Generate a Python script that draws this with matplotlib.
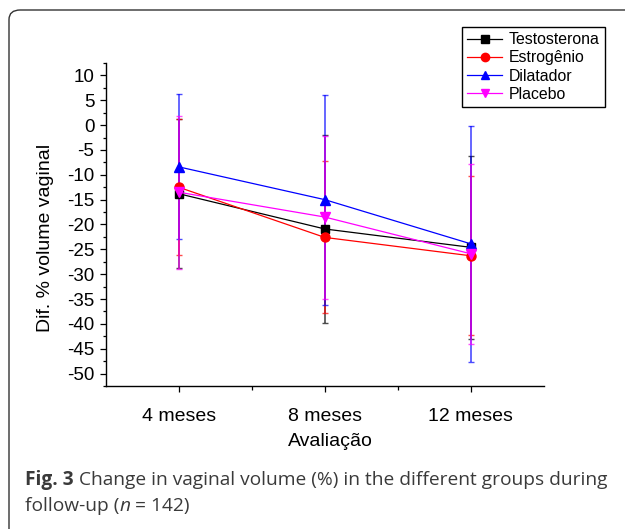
import matplotlib
matplotlib.use("Agg")
import matplotlib.pyplot as plt
from matplotlib.patches import FancyBboxPatch
from matplotlib.ticker import MultipleLocator, FixedLocator

plt.rcParams['font.family'] = ['Liberation Sans', 'DejaVu Sans']
plt.rcParams['axes.unicode_minus'] = False

months = ['4 meses', '8 meses', '12 meses']
groups = ['Testosterona', 'Estrogênio', 'Dilatador', 'Placebo']
testosterona = [-13.8, -20.9, -24.6]
testosterona_err = [15.0, 19.0, 18.4]
estrogenio = [-12.5, -22.6, -26.3]
estrogenio_err = [13.7, 15.3, 16.0]
dilatador = [-8.4, -15.0, -23.9]
dilatador_err = [14.6, 21.1, 23.7]
placebo = [-13.5, -18.5, -25.9]
placebo_err = [15.4, 16.4, 18.1]

series = [
    (testosterona, testosterona_err, '#000000', 's', 6),
    (estrogenio, estrogenio_err, '#ff0000', 'o', 6.5),
    (dilatador, dilatador_err, '#0000ff', '^', 7),
    (placebo, placebo_err, '#ff00ff', 'v', 7),
]

W, H = 625, 529
fig = plt.figure(figsize=(W / 100, H / 100), dpi=100)

# rounded frame around the figure (cut off at right and bottom)
frame = FancyBboxPatch((9 / W, -0.1), 1.2, 1 - 10 / H + 0.1,
                       boxstyle='round,pad=0,rounding_size=0.018',
                       transform=fig.transFigure, fill=False,
                       edgecolor='#333333', linewidth=1.0)
fig.patches.append(frame)

ax = fig.add_axes([105.6 / W, 1 - 386 / H, (544 - 105.6) / W, (386 - 63) / H])
x = [1, 2, 3]

handles = []
for (vals, errs, color, marker, ms), name in zip(series, groups):
    ax.errorbar(x, vals, yerr=errs, fmt='none', ecolor=color, elinewidth=1.2,
                capsize=2.5, capthick=1.0, alpha=0.7, zorder=2)
for (vals, errs, color, marker, ms), name in zip(series, groups):
    h, = ax.plot(x, vals, color=color, marker=marker, markersize=ms,
                 linewidth=0.9, label=name, zorder=3)
    handles.append(h)

ax.set_xlim(0.5, 3.5)
ax.set_ylim(-52.5, 12.5)
ax.set_xticks(x)
ax.set_xticklabels(months, fontsize=14)
ax.xaxis.set_minor_locator(FixedLocator([1.5, 2.5]))
ax.set_yticks(list(range(10, -51, -5)))
ax.yaxis.set_minor_locator(MultipleLocator(2.5))
ax.tick_params(axis='y', labelsize=13.5, direction='out', length=4, width=0.9, pad=4)
ax.tick_params(axis='y', which='minor', direction='out', length=2.5, width=0.9)
ax.tick_params(axis='x', direction='out', length=4, width=0.9, pad=12)
ax.tick_params(axis='x', which='minor', direction='out', length=3, width=0.9)
for side in ['top', 'right']:
    ax.spines[side].set_visible(False)
for side in ['left', 'bottom']:
    ax.spines[side].set_linewidth(1.0)

fig.text(46 / W, 1 - 237.5 / H, 'Dif. % volume vaginal', rotation=90,
         ha='center', va='center', fontsize=14)
fig.text(330 / W, 1 - 441.7 / H, 'Avaliação', ha='center', va='center', fontsize=14)

leg = fig.legend(handles=handles, loc='upper left',
                 bbox_to_anchor=(461.7 / W, 1 - 26.7 / H),
                 fontsize=11.4, frameon=True, fancybox=False, edgecolor='#000000',
                 framealpha=1, handlelength=2.2, handletextpad=0.4,
                 labelspacing=0.2, borderpad=0.35, borderaxespad=0, numpoints=1)
leg.get_frame().set_linewidth(1.0)
for h in leg.legend_handles:
    h.set_markersize(6)


def place_pieces(x0, y0, pieces):
    """write text pieces one after another on one line (pixel coords)"""
    fig.canvas.draw()
    renderer = fig.canvas.get_renderer()
    xpos = x0
    for s, kw in pieces:
        t = fig.text(xpos / W, 1 - y0 / H, s, ha='left', va='baseline',
                     family=['Open Sans', 'DejaVu Sans'], color='#3a3a3a',
                     fontsize=13.8, **kw)
        bb = t.get_window_extent(renderer)
        xpos += bb.width


place_pieces(25, 485, [('Fig. 3', {'weight': 'bold'}),
                       (' Change in vaginal volume (%) in the different groups during', {})])
place_pieces(25, 511, [('follow-up (', {}), ('n', {'style': 'italic'}), (' = 142)', {})])

fig.savefig('out.png', dpi=100)
